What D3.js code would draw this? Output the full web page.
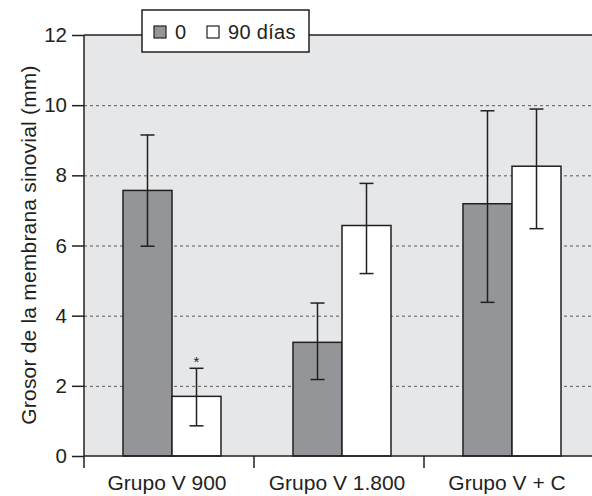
<!DOCTYPE html>
<html>
<head>
<meta charset="utf-8">
<script src="https://cdn.jsdelivr.net/npm/d3@7"></script>
<style>
  body { margin: 0; background: #fff; }
  text { font-family: "Liberation Sans", Arial, sans-serif; fill: #231f20; }
</style>
</head>
<body>
<div class="chart"></div>
<script>
//data
var groups = ['Grupo V 900', 'Grupo V 1.800', 'Grupo V + C'];
var seriesNames = ['0', '90 días'];
var seriesColors = ['#939598', '#ffffff'];
var values0 = [7.57, 3.24, 7.19];
var values90 = [1.7, 6.57, 8.26];
var errLow0 = [5.98, 2.18, 4.38];
var errHigh0 = [9.15, 4.36, 9.84];
var errLow90 = [0.86, 5.2, 6.48];
var errHigh90 = [2.5, 7.77, 9.89];
var yTicks = [0, 2, 4, 6, 8, 10, 12];
var yLabel = 'Grosor de la membrana sinovial (mm)';

//canvas
var size = {'x' : 592, 'y' : 496};
var ink = '#231f20';

var svg = d3.select('.chart')
  .append('svg')
    .attr('width', size.x)
    .attr('height', size.y);

//scales
var y = d3.scaleLinear().domain([0, 12]).range([456, 35]);
var x0 = d3.scaleBand().domain(groups).range([84, 594]);
var x1 = d3.scaleBand().domain(seriesNames).range([39, 137]);

//plot background
svg.append('rect')
  .attr('x', 84).attr('y', y(12))
  .attr('width', size.x - 84).attr('height', y(0) - y(12))
  .attr('fill', '#e6e7e8');

//dotted grid lines
svg.selectAll('.grid')
  .data(yTicks.filter(function(d){ return d > 0 && d < 12 }))
  .enter().append('line')
    .attr('class', 'grid')
    .attr('x1', 84).attr('x2', size.x)
    .attr('y1', function(d){ return y(d) + 0.5 })
    .attr('y2', function(d){ return y(d) + 0.5 })
    .attr('stroke', '#58595b')
    .attr('stroke-width', 1)
    .attr('stroke-dasharray', '3,3');

//top frame line
svg.append('line')
  .attr('x1', 84).attr('x2', size.x)
  .attr('y1', y(12)).attr('y2', y(12))
  .attr('stroke', ink).attr('stroke-width', 1.5);

//bars
var rows = groups.map(function(g, i){
  return [
    {group: g, s: seriesNames[0], v: values0[i], lo: errLow0[i], hi: errHigh0[i], c: seriesColors[0]},
    {group: g, s: seriesNames[1], v: values90[i], lo: errLow90[i], hi: errHigh90[i], c: seriesColors[1]}
  ];
});
var flat = [].concat.apply([], rows);

svg.selectAll('.bar')
  .data(flat)
  .enter().append('rect')
    .attr('class', 'bar')
    .attr('x', function(d){ return x0(d.group) + x1(d.s) })
    .attr('y', function(d){ return y(d.v) })
    .attr('width', x1.bandwidth())
    .attr('height', function(d){ return y(0) - y(d.v) })
    .attr('fill', function(d){ return d.c })
    .attr('stroke', ink)
    .attr('stroke-width', 1.5);

//error bars
var cx = function(d){ return x0(d.group) + x1(d.s) + x1.bandwidth() / 2 };
var err = svg.selectAll('.err').data(flat).enter().append('g').attr('class', 'err')
  .attr('stroke', ink).attr('stroke-width', 1.5);
err.append('line')
  .attr('x1', cx).attr('x2', cx)
  .attr('y1', function(d){ return y(d.lo) })
  .attr('y2', function(d){ return y(d.hi) });
err.append('line')
  .attr('x1', function(d){ return cx(d) - 7 }).attr('x2', function(d){ return cx(d) + 7 })
  .attr('y1', function(d){ return y(d.hi) }).attr('y2', function(d){ return y(d.hi) });
err.append('line')
  .attr('x1', function(d){ return cx(d) - 7 }).attr('x2', function(d){ return cx(d) + 7 })
  .attr('y1', function(d){ return y(d.lo) }).attr('y2', function(d){ return y(d.lo) });

//significance mark
svg.append('text')
  .attr('x', cx(flat[1])).attr('y', y(errHigh90[0]) - 1)
  .attr('text-anchor', 'middle')
  .style('font-size', '15px')
  .text('*');

//y axis
var yAxis = svg.append('g')
  .attr('transform', 'translate(84,0)')
  .call(d3.axisLeft(y).tickValues(yTicks).tickSize(12).tickPadding(5).tickFormat(d3.format('d')));
yAxis.select('.domain').remove();
yAxis.selectAll('line').attr('stroke', ink).attr('stroke-width', 1.5);
yAxis.selectAll('text').style('font-size', '20.5px').attr('fill', ink).attr('font-family', null);
svg.append('line')
  .attr('x1', 84).attr('x2', 84).attr('y1', y(12)).attr('y2', 468)
  .attr('stroke', ink).attr('stroke-width', 1.5);

//x axis
svg.append('line')
  .attr('x1', 84).attr('x2', size.x).attr('y1', y(0)).attr('y2', y(0))
  .attr('stroke', ink).attr('stroke-width', 1.5);
svg.selectAll('.xtick')
  .data(groups.slice(1))
  .enter().append('line')
    .attr('x1', function(d){ return x0(d) }).attr('x2', function(d){ return x0(d) })
    .attr('y1', y(0)).attr('y2', 468)
    .attr('stroke', ink).attr('stroke-width', 1.5);
svg.selectAll('.xlabel')
  .data(groups)
  .enter().append('text')
    .attr('x', function(d){ return x0(d) + x0.bandwidth() / 2 - 2 })
    .attr('y', 490)
    .attr('text-anchor', 'middle')
    .style('font-size', '21px')
    .text(function(d){ return d });

//y label
svg.append('text')
  .attr('transform', 'translate(36,245) rotate(-90)')
  .attr('text-anchor', 'middle')
  .style('font-size', '21px')
  .style('letter-spacing', '0.2px')
  .text(yLabel);

//legend
var legend = svg.append('g').attr('transform', 'translate(142,10)');
legend.append('rect')
  .attr('width', 167).attr('height', 42)
  .attr('fill', '#fff').attr('stroke', ink).attr('stroke-width', 1.5);
var items = legend.selectAll('.item')
  .data(seriesNames)
  .enter().append('g')
    .attr('transform', function(d, i){ return 'translate(' + [12, 65][i] + ',0)' });
items.append('rect')
  .attr('y', 16).attr('width', 12).attr('height', 12)
  .attr('fill', function(d, i){ return seriesColors[i] })
  .attr('stroke', ink).attr('stroke-width', 1.2);
items.append('text')
  .attr('x', 21).attr('y', 29)
  .style('font-size', '20px')
  .style('letter-spacing', '0.3px')
  .text(function(d){ return d });
</script>
</body>
</html>
